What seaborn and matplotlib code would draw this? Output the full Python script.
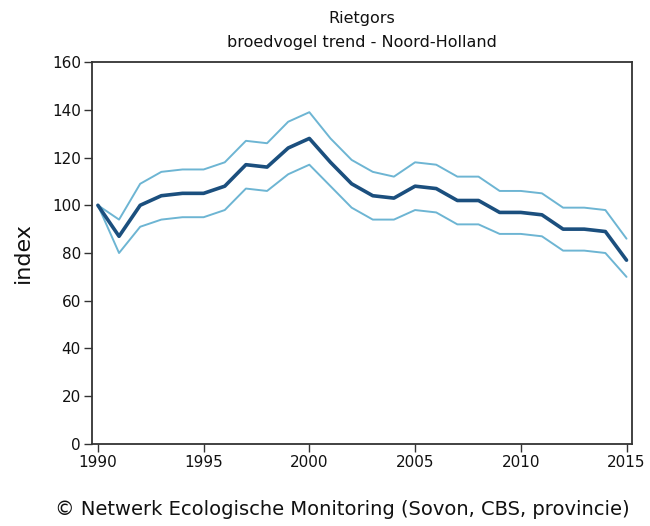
import pandas as pd
import matplotlib
matplotlib.use("Agg")
import matplotlib.pyplot as plt
import seaborn as sns

years = list(range(1990, 2016))
trend = [100, 87, 100, 104, 105, 105, 108, 117, 116, 124, 128, 118, 109, 104, 103,
         108, 107, 102, 102, 97, 97, 96, 90, 90, 89, 77]
upper = [100, 94, 109, 114, 115, 115, 118, 127, 126, 135, 139, 128, 119, 114, 112,
         118, 117, 112, 112, 106, 106, 105, 99, 99, 98, 86]
lower = [100, 80, 91, 94, 95, 95, 98, 107, 106, 113, 117, 108, 99, 94, 94,
         98, 97, 92, 92, 88, 88, 87, 81, 81, 80, 70]

df = pd.DataFrame({"year": years, "trend": trend, "upper": upper, "lower": lower})

sns.set_theme(style="white")
plt.rcParams["font.family"] = ["DejaVu Sans"]

fig = plt.figure(figsize=(6.5, 5.26), dpi=100)
ax = fig.add_axes([0.1415, 0.156, 0.8305, 0.726])

sns.lineplot(data=df, x="year", y="upper", ax=ax, color="#6db5d3", linewidth=1.4)
sns.lineplot(data=df, x="year", y="lower", ax=ax, color="#6db5d3", linewidth=1.4)
sns.lineplot(data=df, x="year", y="trend", ax=ax, color="#1b4f7e", linewidth=2.6)

ax.set_xlim(1989.72, 2015.25)
ax.set_ylim(0, 160)
ax.set_xticks([1990, 1995, 2000, 2005, 2010, 2015])
ax.set_yticks(range(0, 161, 20))
ax.tick_params(axis="both", direction="out", length=6, width=1, color="#333333",
               labelsize=11, labelcolor="#111111", pad=2,
               bottom=True, left=True, top=False, right=False)
for s in ax.spines.values():
    s.set_color("#333333")
    s.set_linewidth(1.3)

ax.set_xlabel("")
ax.set_ylabel("index", fontsize=16, color="#111111", labelpad=14)
ax.set_title("Rietgors\nbroedvogel trend - Noord-Holland", fontsize=11.5,
             color="#111111", linespacing=1.7, pad=11)
fig.text(0.527, 0.013, "\u00a9 Netwerk Ecologische Monitoring (Sovon, CBS, provincie)",
         ha="center", va="bottom", fontsize=14, color="#111111")

fig.savefig("out.png", dpi=100)
